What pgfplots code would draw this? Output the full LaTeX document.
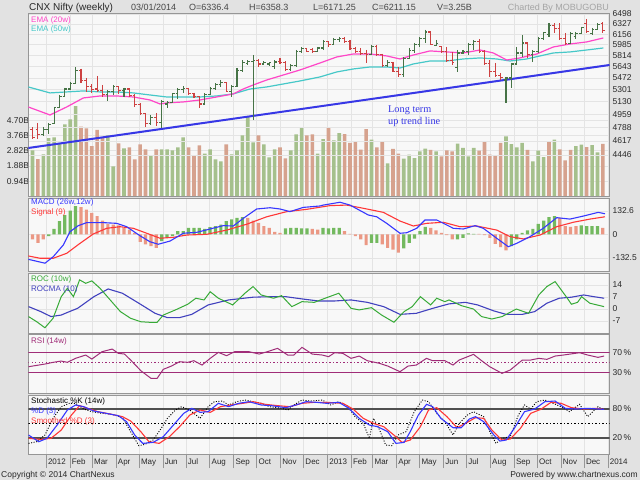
\documentclass[border=0pt]{standalone}
\usepackage{pgfplots}
\pgfplotsset{compat=1.18}
\usepackage{pgfplotstable}
\usepackage{fontspec}
\setmainfont{Liberation Sans}
\newfontfamily\serifface{Liberation Serif}

\definecolor{bgc}{RGB}{226,226,226}
\definecolor{panelc}{RGB}{248,248,248}
\definecolor{gridc}{RGB}{228,228,228}
\definecolor{framec}{RGB}{150,150,150}
\definecolor{tickc}{RGB}{40,40,40}
\definecolor{upc}{RGB}{70,115,70}
\definecolor{dnc}{RGB}{205,65,65}
\definecolor{volup}{RGB}{165,192,140}
\definecolor{voldn}{RGB}{214,162,142}
\definecolor{emaa}{RGB}{255,70,200}
\definecolor{emab}{RGB}{70,200,200}
\definecolor{trendc}{RGB}{55,55,230}
\definecolor{macdc}{RGB}{55,55,255}
\definecolor{sigc}{RGB}{255,55,55}
\definecolor{hup}{RGB}{115,185,95}
\definecolor{hdn}{RGB}{235,152,132}
\definecolor{rocc}{RGB}{55,170,55}
\definecolor{rocmac}{RGB}{65,65,190}
\definecolor{rsic}{RGB}{160,45,120}
\definecolor{stc}{RGB}{80,80,80}

\newcommand\tickfont{\fontsize{8.5}{10}\selectfont}
\newcommand\legfont{\fontsize{8}{9}\selectfont}

% open tick, close tick and high-low stroke (length from the data, in pt)
\pgfdeclareplotmark{otick}{\pgfpathmoveto{\pgfqpoint{-\pgfplotmarksize}{0pt}}\pgfpathlineto{\pgfqpoint{0pt}{0pt}}\pgfusepathqstroke}
\pgfdeclareplotmark{ctick}{\pgfpathmoveto{\pgfqpoint{0pt}{0pt}}\pgfpathlineto{\pgfqpoint{\pgfplotmarksize}{0pt}}\pgfusepathqstroke}
\pgfdeclareplotmark{hlbar}{\pgfpathmoveto{\pgfqpoint{0pt}{0pt}}\pgfpathlineto{\pgfqpoint{0pt}{-\hlen pt}}\pgfusepathqstroke}

% weekly bars: x = weeks since 1 Jan 2012, prices, volume in billions, vu = volume colour
\pgfplotstableread{
x o h l c v vu
-2.5 4760 4790 4640 4660 2.84 1
-1.5 4760 4846 4640 4700 2.30 0
-0.5 4700 4794 4680 4760 2.60 1
0.5 4760 4846 4700 4830 3.60 1
1.5 4840 5059 4830 5050 3.65 1
2.5 5050 5225 5040 5200 3.30 1
3.5 5200 5325 5190 5310 4.45 1
4.5 5310 5411 5300 5390 4.75 1
5.5 5390 5630 5380 5580 5.57 1
6.5 5580 5610 5400 5430 4.30 0
7.5 5430 5470 5268 5340 4.20 0
8.5 5340 5380 5250 5300 3.10 0
9.5 5310 5500 5268 5290 4.10 0
10.5 5290 5368 5197 5230 3.65 0
11.5 5230 5296 5140 5280 3.77 1
12.5 5280 5368 5225 5340 1.86 1
13.5 5340 5350 5240 5290 3.28 0
14.5 5290 5330 5200 5310 2.97 1
15.5 5310 5320 5200 5220 3.03 0
16.5 5220 5240 5059 5090 2.29 0
17.5 5090 5114 4951 4970 3.22 0
18.5 4970 4978 4794 4840 2.90 0
19.5 4840 4951 4820 4920 2.53 1
20.5 4920 4978 4800 4850 2.90 0
21.5 4850 5155 4781 5130 2.90 1
22.5 5100 5140 5045 5120 2.90 1
23.5 5120 5254 5110 5240 2.84 1
24.5 5240 5325 5170 5300 3.03 1
25.5 5300 5348 5254 5320 3.65 1
26.5 5320 5330 5220 5240 3.03 0
27.5 5240 5260 5180 5200 2.53 0
28.5 5200 5210 5045 5100 3.15 0
29.5 5100 5250 5090 5230 2.65 1
30.5 5230 5340 5220 5320 2.90 1
31.5 5320 5390 5300 5370 2.29 1
32.5 5370 5440 5339 5400 2.16 1
33.5 5400 5410 5260 5280 3.22 0
34.5 5280 5368 5197 5350 2.60 1
35.5 5350 5619 5340 5580 2.84 1
36.5 5580 5741 5560 5700 3.77 1
37.5 5690 5741 5664 5720 4.95 1
38.5 5720 5819 4885 5740 3.34 1
39.5 5740 5750 5634 5680 3.77 0
40.5 5680 5720 5664 5700 3.22 1
41.5 5680 5710 5650 5700 2.41 1
42.5 5640 5741 5600 5710 2.90 1
43.5 5720 5770 5680 5700 3.03 0
44.5 5700 5720 5580 5600 2.35 0
45.5 5600 5680 5580 5660 2.84 1
46.5 5660 5898 5634 5880 3.83 1
47.5 5880 5946 5851 5920 4.27 1
48.5 5920 5930 5860 5880 3.77 0
49.5 5900 5930 5851 5880 3.83 0
50.5 5880 5946 5870 5930 2.65 1
51.5 5930 6059 5898 6040 3.54 1
52.5 6040 6045 5946 5980 4.27 0
53.5 5980 6092 5970 6070 3.46 1
54.5 6060 6111 6030 6080 3.90 1
55.5 6080 6110 6010 6030 3.85 0
56.5 6030 6059 5898 5920 3.30 0
57.5 5920 5946 5851 5880 3.36 0
58.5 5880 5930 5819 5840 2.89 0
59.5 5840 5898 5695 5830 4.16 0
60.5 5830 5978 5819 5950 3.50 1
61.5 5950 5978 5800 5830 3.03 0
62.5 5830 5840 5634 5660 3.40 0
63.5 5660 5741 5634 5700 2.04 1
64.5 5700 5711 5559 5570 2.93 0
65.5 5570 5634 5485 5520 2.64 0
66.5 5520 5788 5485 5770 2.33 1
67.5 5770 5930 5760 5890 2.58 1
68.5 5890 6011 5851 5990 2.37 1
69.5 5990 6108 5946 6090 2.78 1
70.5 6090 6229 6011 6190 2.95 1
71.5 6190 6200 5978 5990 2.87 0
72.5 5970 6059 5960 6000 2.78 1
73.5 5950 5960 5851 5880 2.47 0
74.5 5880 5946 5711 5740 2.84 0
75.5 5740 5867 5664 5700 2.78 0
76.5 5620 5898 5559 5850 3.26 1
77.5 5850 5898 5835 5880 2.99 1
78.5 5880 6011 5819 5990 2.47 1
79.5 5990 6059 5898 6040 2.99 1
80.5 6040 6075 5851 5880 2.83 0
81.5 5880 5898 5664 5690 3.36 0
82.5 5690 5741 5485 5560 2.58 0
83.5 5560 5695 5485 5510 2.54 0
84.5 5510 5544 5440 5480 3.30 0
85.5 5440 5485 5118 5470 3.71 1
86.5 5470 5700 5325 5680 3.23 1
87.5 5680 5946 5675 5850 3.03 1
88.5 5850 6142 5788 6010 3.30 1
89.5 6010 6011 5773 5830 2.87 0
90.5 5830 5898 5711 5880 2.16 1
91.5 5880 6108 5851 6090 2.83 1
92.5 6090 6191 6059 6180 2.43 1
93.5 6150 6342 6108 6300 3.36 0
94.5 6300 6342 6175 6250 3.50 1
95.5 6250 6342 6059 6080 2.91 0
96.5 6080 6175 5978 6000 2.23 0
97.5 6000 6191 5990 6170 2.87 0
98.5 6120 6191 6080 6170 3.11 1
99.5 6170 6275 6165 6260 3.20 1
100.5 6330 6415 6175 6200 3.05 0
101.5 6160 6258 6141 6230 3.17 1
102.5 6230 6342 6224 6310 2.72 1
103.5 6336.4 6358.3 6171.25 6211.15 3.25 0
}\ohlc

% MACD histogram, hu = colour
\pgfplotstableread{
x hv hu
-2.5 -28 0
-1.5 -47 0
-0.5 -28 0
0.5 -9 1
1.5 32 1
2.5 75 1
3.5 109 1
4.5 135 1
5.5 160 1
6.5 154 0
7.5 141 0
8.5 122 0
9.5 103 0
10.5 79 0
11.5 60 0
12.5 56 0
13.5 51 0
14.5 38 0
15.5 28 0
16.5 9 0
17.5 -41 0
18.5 -56 0
19.5 -66 0
20.5 -75 0
21.5 -38 1
22.5 -19 1
23.5 -9 1
24.5 19 1
25.5 19 1
26.5 38 1
27.5 38 1
28.5 38 1
29.5 32 1
30.5 41 1
31.5 47 1
32.5 56 1
33.5 75 1
34.5 85 1
35.5 94 1
36.5 98 1
37.5 94 0
38.5 79 0
39.5 66 0
40.5 47 0
41.5 38 0
42.5 15 0
43.5 9 0
44.5 34 1
45.5 38 1
46.5 38 1
47.5 34 1
48.5 34 1
49.5 32 0
50.5 28 0
51.5 38 1
52.5 34 1
53.5 38 1
54.5 38 1
55.5 19 0
56.5 4 0
57.5 -9 0
58.5 -28 0
59.5 -60 0
60.5 -47 1
61.5 -47 1
62.5 -56 0
63.5 -75 0
64.5 -85 0
65.5 -103 0
66.5 -79 1
67.5 -47 1
68.5 -23 1
69.5 19 1
70.5 43 1
71.5 38 0
72.5 23 0
73.5 9 0
74.5 -4 0
75.5 -28 0
76.5 -28 1
77.5 -19 1
78.5 6 1
79.5 4 1
80.5 4 0
81.5 -4 0
82.5 -19 0
83.5 -53 0
84.5 -71 0
85.5 -90 0
86.5 -66 1
87.5 -28 1
88.5 9 1
89.5 23 1
90.5 32 1
91.5 60 1
92.5 79 1
93.5 98 1
94.5 103 1
95.5 94 0
96.5 47 0
97.5 43 0
98.5 47 0
99.5 51 1
100.5 47 1
101.5 47 1
102.5 47 1
103.5 38 0
}\hist

\pgfplotsset{
  panel/.style={
    scale only axis, width=581.2pt,
    xmin=-3.29, xmax=104.74,
    xtick={0,4.43,8.57,13,17.29,21.71,26,30.43,34.86,39.14,43.57,47.86,52.29,56.71,60.71,65.14,69.43,73.86,78.14,82.57,87,91.29,95.71,100,104.43},
    xticklabels={},
    xmajorgrids, ymajorgrids,
    grid style={draw=gridc, line width=0.6pt},
    axis background/.style={fill=panelc},
    axis line style={draw=framec, line width=0.8pt},
    tick style={draw=none},
    yticklabel pos=right,
    every tick label/.append style={font=\tickfont, text=tickc},
    yticklabel style={anchor=west, inner sep=0pt, xshift=3pt},
    /pgf/number format/assume math mode=true,
  },
}

\begin{document}
\begin{tikzpicture}
\fill[bgc] (0pt,0pt) rectangle (640pt,480pt);

% volume
\begin{axis}[panel, at={(28.3pt,283.5pt)}, anchor=south west, height=183.5pt,
  ymin=0, ymax=11.31,
  ytick={0.94,1.88,2.82,3.76,4.70}, yticklabels={0.94B,1.88B,2.82B,3.76B,4.70B},
  yticklabel pos=left, yticklabel style={anchor=east, inner sep=0pt, xshift=-2pt}]
  \addplot[ybar, bar width=3.6pt, bar shift=0pt, fill=volup, draw=none,
    restrict expr to domain={\thisrow{vu}}{0.5:2}] table[x=x, y=v] {\ohlc};
  \addplot[ybar, bar width=3.6pt, bar shift=0pt, fill=voldn, draw=none,
    restrict expr to domain={\thisrow{vu}}{-1:0.5}] table[x=x, y=v] {\ohlc};
\end{axis}

% price on a logarithmic scale: 183.5pt for ln(6516/3976), i.e. 371.47pt per unit of ln
\begin{axis}[panel, at={(28.3pt,283.5pt)}, anchor=south west, height=183.5pt,
  axis background/.style={}, xmajorgrids=false,
  y coord trafo/.code={\pgfmathparse{ln(#1)}},
  y coord inv trafo/.code={\pgfmathparse{exp(#1)}},
  ymin=3976, ymax=6516,
  ytick={4446,4617,4788,4959,5130,5301,5472,5643,5814,5985,6156,6327,6498},
  yticklabels={4446,4617,4788,4959,5130,5301,5472,5643,5814,5985,6156,6327,6498},
  upbar/.style={upc, x filter/.expression={\thisrow{c}>=\thisrow{o} ? x : nan}},
  dnbar/.style={dnc, x filter/.expression={\thisrow{c}<\thisrow{o} ? x : nan}}]
  \addplot[trendc, line width=2pt] coordinates {(-3.29,4530) (104.74,5664)};
  \addplot[emab, line width=1.2pt] coordinates {
    (-3.29,5339) (0.74,5254) (3.85,5268) (6.93,5282) (10.04,5268) (13.14,5268) (16.23,5254)
    (19.33,5225) (22.43,5197) (25.52,5197) (28.62,5197) (31.73,5211) (34.81,5240) (37.92,5310)
    (41.02,5339) (44.11,5382) (47.21,5426) (50.93,5485) (54.03,5559) (57.12,5604) (60.22,5634)
    (63.33,5634) (65.80,5619) (68.27,5680) (71.38,5726) (74.48,5726) (77.57,5757) (80.67,5773)
    (83.77,5757) (86.25,5726) (89.35,5757) (91.82,5804) (94.29,5851) (97.40,5867) (100.50,5898) (103.59,5930)};
  \addplot[emaa, line width=1.2pt] coordinates {
    (-3.29,5059) (0.74,4951) (3.85,5059) (6.93,5183) (10.04,5211) (13.14,5211) (16.23,5197)
    (19.33,5155) (21.19,5100) (22.43,5114) (25.52,5128) (28.62,5155) (31.73,5197) (34.81,5240)
    (36.67,5310) (38.53,5368) (41.02,5440) (44.11,5514) (47.21,5589) (50.93,5695) (54.03,5788)
    (57.12,5835) (60.22,5835) (63.33,5804) (65.80,5757) (68.27,5819) (71.38,5883) (74.48,5867)
    (77.57,5851) (80.67,5898) (83.14,5851) (85.63,5741) (88.10,5773) (91.21,5835) (94.29,5946)
    (97.40,5994) (100.50,6027) (103.59,6092)};
  \addplot[upbar, only marks, mark=hlbar, line width=1.1pt,
    visualization depends on={371.47*ln(\thisrow{h}/\thisrow{l}) \as \hlen}] table[x=x, y=h] {\ohlc};
  \addplot[upbar, only marks, mark=otick, mark size=2.2pt, line width=1.1pt] table[x=x, y=o] {\ohlc};
  \addplot[upbar, only marks, mark=ctick, mark size=2.2pt, line width=1.1pt] table[x=x, y=c] {\ohlc};
  \addplot[dnbar, only marks, mark=hlbar, line width=1.1pt,
    visualization depends on={371.47*ln(\thisrow{h}/\thisrow{l}) \as \hlen}] table[x=x, y=h] {\ohlc};
  \addplot[dnbar, only marks, mark=otick, mark size=2.2pt, line width=1.1pt] table[x=x, y=o] {\ohlc};
  \addplot[dnbar, only marks, mark=ctick, mark size=2.2pt, line width=1.1pt] table[x=x, y=c] {\ohlc};
\end{axis}

% MACD
\begin{axis}[panel, at={(28.3pt,209pt)}, anchor=south west, height=73pt,
  ymin=-206, ymax=206, ytick={-132.5,0,132.6}, yticklabels={-132.5,0,132.6}]
  \addplot[ybar, bar width=3.2pt, bar shift=0pt, fill=hup, draw=none,
    restrict expr to domain={\thisrow{hu}}{0.5:2}] table[x=x, y=hv] {\hist};
  \addplot[ybar, bar width=3.2pt, bar shift=0pt, fill=hdn, draw=none,
    restrict expr to domain={\thisrow{hu}}{-1:0.5}] table[x=x, y=hv] {\hist};
  \addplot[sigc, line width=1.1pt] coordinates {
    (-3.29,-121) (-1.12,-134) (1.36,-134) (3.85,-106) (6.32,-50) (8.79,3) (11.28,35) (13.75,44)
    (16.23,35) (18.72,7) (21.19,-21) (23.66,-16) (26.15,-3) (29.87,1) (33.59,25) (37.31,58)
    (41.02,100) (44.74,129) (48.46,142) (52.79,163) (55.89,166) (58.98,148) (62.70,125) (65.80,76)
    (68.27,48) (70.76,63) (73.85,69) (76.95,44) (80.06,48) (83.77,25) (86.25,-12) (88.72,-25)
    (91.82,-3) (94.93,44) (98.01,69) (101.12,87) (103.90,100)};
  \addplot[macdc, line width=1.1pt] coordinates {
    (-3.29,-140) (-0.19,-162) (1.36,-125) (3.22,-59) (4.46,16) (6.0,50) (7.57,67) (10.65,67)
    (13.14,63) (15.0,44) (17.47,-7) (19.33,-41) (20.87,-55) (23.05,-37) (25.52,7) (28.01,12)
    (30.48,31) (32.96,50) (34.81,48) (36.67,91) (39.16,144) (41.64,151) (43.49,144) (45.35,129)
    (47.83,153) (50.93,161) (51.54,166) (54.65,182) (56.51,166) (59.91,110) (61.47,100) (63.33,63)
    (65.80,7) (67.05,10) (68.90,35) (70.45,82) (72.62,82) (75.71,35) (77.57,31) (79.74,50)
    (81.28,35) (83.77,-21) (85.93,-69) (87.49,-50) (89.96,-12) (92.43,35) (94.93,95) (97.40,87)
    (99.87,104) (102.66,125) (103.90,117)};
\end{axis}

% ROC
\begin{axis}[panel, at={(28.3pt,147pt)}, anchor=south west, height=60pt,
  ymin=-14.06, ymax=20.9, ytick={-7,0,7,14}]
  \addplot[rocmac, line width=1.1pt] coordinates {
    (-3.24,1.3) (-0.96,-1.6) (0.93,-4.5) (2.83,-3.6) (4.35,-1.6) (5.87,0.3) (8.9,7.1) (11.56,11.6)
    (14.2,9.1) (17.25,3.3) (20.28,-2.6) (22.55,-5.1) (24.83,-5.1) (27.1,-3.2) (30.15,2.3) (33.94,5.2)
    (38.49,6.8) (41.52,7.1) (44.55,7.1) (47.58,5.8) (50.63,4.6) (53.66,4.6) (56.7,5.2) (59.72,3.8)
    (62.77,1.3) (65.8,-3.2) (68.83,-2.6) (71.88,0.3) (74.91,2.9) (77.94,3.8) (80.22,2.3) (83.25,-1.2)
    (85.52,-3.2) (88.55,-3.2) (90.83,-1.6) (93.1,3.3) (95.39,6.2) (97.66,6.8) (99.94,8.1) (101.84,7.1) (103.74,6.2)};
  \addplot[rocc, line width=1pt] coordinates {
    (-3.24,-4.5) (-1.72,-7.5) (-0.2,-11) (1.31,-5.5) (2.83,7.1) (3.97,12) (5.1,7.1) (6.24,16.9)
    (7.38,14.9) (8.52,16.3) (10.04,12) (11.93,5.2) (13.83,-1.6) (15.73,-5.5) (17.63,-7.5) (19.14,-7.8)
    (20.66,-7.8) (21.8,-3.6) (24.07,-0.6) (26.35,2.7) (27.86,6.2) (29.39,5.2) (30.52,10) (32.04,6.2)
    (34.7,2.3) (36.97,9.1) (38.49,13) (40.0,8.1) (42.29,6.2) (43.79,7.7) (45.69,1.3) (47.58,4.2)
    (49.87,3.8) (52.14,6.5) (54.42,9.1) (56.7,0.3) (58.22,-0.6) (60.49,0.7) (62.38,-3.6) (64.67,-7.8)
    (66.56,-1.6) (68.07,1.3) (69.59,7.1) (71.49,2.3) (72.62,6.2) (74.14,4.2) (74.91,5.2) (77.18,1.9)
    (79.46,-0.1) (80.97,-4.5) (82.86,-5.9) (84.76,-4.5) (87.42,-0.1) (89.7,-2.6) (91.6,8.1) (93.1,13)
    (94.63,15.9) (96.9,6.2) (97.66,2.7) (98.8,3.8) (99.56,7.1) (101.08,3.3) (103.74,1.3)};
\end{axis}

% RSI
\begin{axis}[panel, at={(28.3pt,87pt)}, anchor=south west, height=58.5pt,
  ymin=-10.6, ymax=106.4, ymajorgrids=false, ytick={30,70}, yticklabels={30\,\%,70\,\%}]
  \addplot[rsic, line width=0.9pt] coordinates {(-3.29,70) (104.74,70)};
  \addplot[rsic, line width=0.9pt] coordinates {(-3.29,30) (104.74,30)};
  \addplot[rsic, line width=0.9pt, dash pattern=on 1.2pt off 2.3pt] coordinates {(-3.29,50) (104.74,50)};
  \addplot[rsic, line width=1pt] coordinates {
    (-3.24,42) (-0.2,47.3) (1.31,50.7) (2.83,53.3) (3.97,50.7) (5.48,58.7) (7.38,65.3) (8.52,57.3)
    (10.42,72) (12.31,77.3) (13.45,68.7) (14.59,67.3) (15.73,55.3) (17.63,34) (19.52,18.7) (20.66,18.7)
    (21.8,36.7) (23.31,43.3) (24.83,52) (26.35,50.7) (27.48,54) (29.0,45.3) (30.52,58.7) (32.04,70.7)
    (33.55,64) (35.07,72) (37.73,72) (39.62,67.3) (41.14,72) (43.04,78.7) (44.93,65.3) (46.07,65.3)
    (47.58,80.7) (49.48,67.3) (51.38,65.3) (52.52,62) (53.66,70) (55.17,68.7) (56.7,58.7) (58.22,63.3)
    (59.72,54) (62.0,48.7) (63.52,43.3) (65.8,32) (67.31,43.3) (68.83,45.3) (70.72,58.7) (71.86,54)
    (74.14,54) (75.65,45.3) (76.79,55.3) (79.46,66.7) (80.97,54) (82.48,42) (84.76,28.7) (86.27,35.3)
    (88.55,55.3) (90.07,55.3) (91.59,58.7) (93.1,56.7) (94.63,63.3) (96.14,65.3) (99.18,70) (100.7,65.3)
    (102.6,60.7) (103.74,63.3)};
\end{axis}

% Stochastic
\begin{axis}[panel, at={(28.3pt,26pt)}, anchor=south west, height=59pt,
  ymin=-14.1, ymax=109.3, ymajorgrids=false, ytick={20,80}, yticklabels={20\,\%,80\,\%},
  xticklabels={2012,Feb,Mar,Apr,May,Jun,Jul,Aug,Sep,Oct,Nov,Dec,2013,Feb,Mar,Apr,May,Jun,Jul,Aug,Sep,Oct,Nov,Dec,2014},
  xtick pos=bottom, xtick align=outside, ytick align=inside, major tick length=14pt,
  xtick style={draw=framec, line width=0.6pt},
  xticklabel shift=-9.5pt,
  xticklabel style={anchor=north west, inner sep=0pt, xshift=1.8pt, font=\fontsize{8}{9}\selectfont}]
  \addplot[stc, line width=1.8pt] coordinates {(-3.29,80) (104.74,80)};
  \addplot[stc, line width=1.8pt] coordinates {(-3.29,20) (104.74,20)};
  \addplot[black, line width=0.8pt, dash pattern=on 1.5pt off 2pt] coordinates {(-3.29,50) (104.74,50)};
  \addplot[black, line width=0.9pt, dash pattern=on 1pt off 1.6pt] coordinates {
    (-3.24,8.1) (-1.72,11.6) (-0.2,25.6) (1.31,60.5) (2.83,84.9) (4.35,91.9) (5.49,91.9) (7.0,80)
    (8.52,74.4) (10.42,70.9) (12.31,68.8) (14.21,61.9) (15.73,32.6) (17.25,3.3) (18.38,6) (19.9,15.1)
    (21.42,39.5) (22.56,60.5) (24.07,77.9) (25.21,84.9) (26.73,77.9) (28.63,60.5) (30.14,84.9) (31.28,95.3)
    (32.8,96.7) (33.94,88.4) (35.45,95.3) (36.97,98.8) (38.49,95.3) (40.01,91.9) (41.52,84.9) (43.8,81.4)
    (44.94,77.9) (46.07,88.4) (47.59,98.8) (49.11,96.7) (51.38,98.8) (52.9,88.4) (54.42,95.3) (55.94,87)
    (57.45,64) (58.97,50) (60.11,18.6) (60.87,60.5) (62.01,36) (63.14,4.6) (64.28,3.3) (65.42,25.6)
    (66.94,32.6) (68.45,74.4) (69.97,98.8) (71.11,95.3) (72.63,70.9) (74.15,53.5) (75.66,25.6) (76.8,50)
    (78.32,67.4) (79.45,74.4) (81.35,64) (82.49,32.6) (83.63,8.1) (84.77,18.6) (86.28,22.1) (87.8,67.4)
    (88.94,88.4) (90.08,80) (91.21,95.3) (92.73,98.8) (94.25,91.9) (96.15,82.8) (97.28,74.4) (99.18,89.8)
    (100.7,64) (102.6,84.9) (103.73,77.9)};
  \addplot[sigc, line width=1.1pt] coordinates {
    (-3.24,18.6) (-0.96,16.5) (0.93,18.6) (2.83,36) (4.73,67.4) (6.24,87) (7.76,81.4) (9.66,74.4)
    (11.93,69.5) (14.21,64) (15.73,54.9) (17.62,32.6) (19.14,11.6) (21.04,8.1) (22.93,22.1) (24.83,43)
    (26.73,67.4) (28.63,77.9) (30.52,73) (32.42,84.9) (34.32,88.4) (36.59,91.9) (38.49,95.3) (40.76,89.8)
    (43.04,87) (45.32,84.9) (47.59,91.9) (49.87,94) (52.14,94) (55.18,91.9) (57.07,80) (58.97,60.5)
    (60.87,50) (62.77,43) (64.66,25.6) (66.18,10.2) (67.7,15.1) (69.59,43) (71.11,77.9) (72.63,82.8)
    (74.52,64) (76.42,40.9) (78.32,52.1) (79.83,61.9) (81.35,60.5) (82.87,36) (84.77,15.1) (86.28,17.2)
    (88.18,39.5) (90.08,70.9) (91.97,79.3) (93.87,94) (95.77,91.9) (97.66,82.8) (99.94,80) (102.22,81.4) (103.73,79.3)};
  \addplot[macdc, line width=1.1pt] coordinates {
    (-3.24,25.6) (-1.34,11.6) (0.17,18.6) (2.07,46.5) (3.97,77.9) (5.49,88.4) (7.0,84.9) (8.9,75.8)
    (11.18,70.9) (13.45,66) (14.97,53.5) (16.49,25.6) (18.0,8.1) (19.9,10.2) (21.8,22.1) (23.69,46.5)
    (25.59,70.9) (27.11,81.4) (28.63,73) (30.14,74.4) (32.04,91.9) (33.94,84.9) (35.83,91.9) (37.73,95.3)
    (40.01,88.4) (41.9,87) (44.56,82.8) (46.45,88.4) (48.35,95.3) (50.25,94) (52.14,91.9) (54.42,94)
    (56.32,81.4) (58.21,60.5) (60.11,46.5) (61.63,43) (63.52,32.6) (65.04,8.1) (66.56,10.2) (67.7,32.6)
    (69.21,67.4) (70.73,89.8) (71.87,84.9) (73.39,60.5) (75.66,40.9) (77.18,40.9) (78.7,59.1) (79.83,64)
    (81.35,53.5) (83.25,25.6) (84.39,13) (85.52,15.1) (87.04,39.5) (88.94,74.4) (90.84,80) (92.73,95.3)
    (94.63,96.7) (96.53,81.4) (98.42,80) (100.7,81.4) (103.73,79.3)};
\end{axis}

% header
\node[anchor=base west, inner sep=0pt, font=\fontsize{10}{12}\selectfont, text=tickc] at (29pt,469.5pt) {CNX Nifty (weekly)};
\begin{scope}[every node/.style={anchor=base west, inner sep=0pt, font=\fontsize{9}{11}\selectfont, text={rgb,255:red,70;green,70;blue,70}}]
\node at (131pt,469.5pt) {03/01/2014};
\node at (189pt,469.5pt) {O=6336.4};
\node at (249pt,469.5pt) {H=6358.3};
\node at (313pt,469.5pt) {L=6171.25};
\node at (372pt,469.5pt) {C=6211.15};
\node at (437pt,469.5pt) {V=3.25B};
\end{scope}
\node[anchor=base east, inner sep=0pt, font=\fontsize{9}{11}\selectfont, text={rgb,255:red,165;green,165;blue,165}] at (609pt,469.5pt) {Charted By MOBUGOBU};

% legends
\begin{scope}[every node/.style={anchor=base west, inner sep=0pt, font=\legfont}]
\node[text=emaa] at (31pt,457.5pt) {EMA (20w)};
\node[text=emab] at (31pt,448pt) {EMA (50w)};
\node[text=macdc] at (31pt,275pt) {MACD (26w,12w)};
\node[text=sigc] at (31pt,265.5pt) {Signal (9)};
\node[text=rocc] at (31pt,198.5pt) {ROC (10w)};
\node[text=rocmac] at (31pt,188.5pt) {ROCMA (10)};
\node[text=rsic] at (31pt,137pt) {RSI (14w)};
\node[text=black] at (31pt,77pt) {Stochastic \%K (14w)};
\node[text=macdc] at (31pt,67pt) {\%D (3)};
\node[text=sigc] at (31pt,57pt) {Smoothed \%D (3)};
\end{scope}

% annotation
\node[anchor=base west, inner sep=0pt, font=\serifface\fontsize{10.3}{12}\selectfont, text=trendc] at (388pt,367.5pt) {Long term};
\node[anchor=base west, inner sep=0pt, font=\serifface\fontsize{10.3}{12}\selectfont, text=trendc] at (388pt,355pt) {up trend line};

% footer
\node[anchor=base west, inner sep=0pt, font=\fontsize{8.5}{10}\selectfont, text=tickc] at (1pt,3pt) {Copyright © 2014 ChartNexus};
\node[anchor=base east, inner sep=0pt, font=\fontsize{8.5}{10}\selectfont, text=tickc] at (638pt,3pt) {Powered by www.chartnexus.com};

\pgfresetboundingbox
\useasboundingbox (0pt,0pt) rectangle (640pt,480pt);
\end{tikzpicture}
\end{document}
